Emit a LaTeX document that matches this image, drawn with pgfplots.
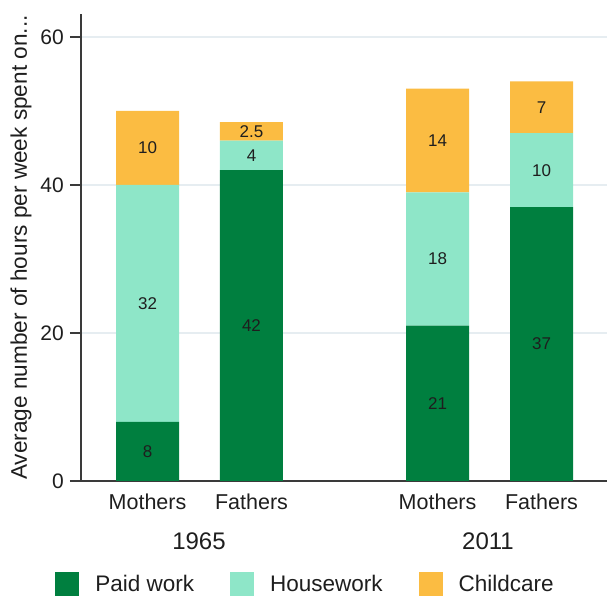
\documentclass[border=0pt]{standalone}
\usepackage{fontspec}
\setmainfont{Liberation Sans}
\usepackage{pgfplots}
\pgfplotsset{compat=1.18}
\definecolor{paid}{HTML}{007F3F}
\definecolor{house}{HTML}{8EE6C8}
\definecolor{child}{HTML}{FBBC42}
\definecolor{axgray}{HTML}{3A3A3A}
\definecolor{gridc}{HTML}{E6EDF1}
\definecolor{txt}{HTML}{1E1E1E}
\begin{document}
\begin{tikzpicture}
\begin{axis}[
  name=ax,
  scale only axis, width=526pt, height=467pt,
  xmin=-0.64, xmax=4.42, ymin=0, ymax=63.1,
  ybar stacked, bar width=63pt,
  axis x line*=bottom, axis y line*=left,
  axis line style={axgray, line width=1.3pt, -},
  xtick={0,1,2.79,3.79}, xticklabels={Mothers,Fathers,Mothers,Fathers},
  x tick style={draw=none},
  ytick={0,20,40,60},
  y tick style={axgray, line width=1.3pt},
  tick align=outside, major tick length=11pt,
  ymajorgrids, grid style={gridc, line width=1.3pt},
  xticklabel style={font=\fontsize{21.5}{24}\selectfont, anchor=base, yshift=-17.5pt, inner sep=0pt, text=txt},
  yticklabel style={font=\fontsize{21}{24}\selectfont, anchor=east, xshift=-6pt, inner sep=0pt, text=txt},
  /pgf/number format/assume math mode=true,
  ylabel={Average number of hours per week spent on...},
  ylabel style={at={(axis description cs:-0.1141,0.5)}, anchor=center, font=\fontsize{22.6}{24}\selectfont, text=txt, inner sep=0pt},
  clip=false,
  legend columns=3,
  legend style={at={(0.4268,-0.2206)}, anchor=center, draw=none, fill=none,
    font=\fontsize{22.5}{24}\selectfont, text=txt,
    /tikz/every odd column/.append style={column sep=14pt},
    /tikz/every even column/.append style={column sep=34pt}},
  nodes near coords,
  point meta=explicit symbolic,
  every node near coord/.append style={anchor=center, font=\fontsize{17}{20}\selectfont, text=txt},
]
\addplot[fill=paid, draw=none, legend image code/.code={\fill[paid] (0pt,-12pt) rectangle (24pt,12pt);}]
  coordinates {(0,8)[8] (1,42)[42] (2.79,21)[21] (3.79,37)[37]};
\addplot[fill=house, draw=none, legend image code/.code={\fill[house] (0pt,-12pt) rectangle (24pt,12pt);}]
  coordinates {(0,32)[32] (1,4)[4] (2.79,18)[18] (3.79,10)[10]};
\addplot[fill=child, draw=none, legend image code/.code={\fill[child] (0pt,-12pt) rectangle (24pt,12pt);}]
  coordinates {(0,10)[10] (1,2.5)[2.5] (2.79,14)[14] (3.79,7)[7]};
\legend{Paid work, Housework, Childcare}
\node[anchor=base, font=\fontsize{24}{26}\selectfont, text=txt] at ([yshift=-68.5pt]axis cs:0.495,0) {1965};
\node[anchor=base, font=\fontsize{24}{26}\selectfont, text=txt] at ([yshift=-68.5pt]axis cs:3.275,0) {2011};
\end{axis}
\pgfresetboundingbox
\path ([xshift=-81pt,yshift=-115pt]ax.south west) rectangle ([yshift=14pt]ax.north east);
\end{tikzpicture}
\end{document}
